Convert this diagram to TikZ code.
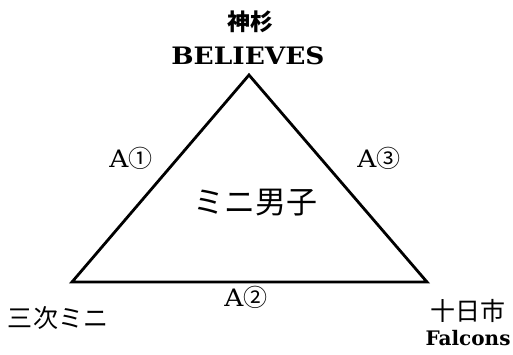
\documentclass[tikz,border=0pt]{standalone}
\usepackage{fontspec}
\newfontfamily\jp{Noto Sans CJK JP}
\newfontfamily\lat[FakeStretch=1.1]{DejaVu Serif}
\newfontfamily\latn{DejaVu Serif}
\begin{document}
\begin{tikzpicture}[x=1pt,y=-1pt,
  tri/.style={line width=2.8pt,line join=miter},
  jplab/.style={inner sep=0pt},
  enlab/.style={inner sep=0pt},
  alab/.style={inner sep=0pt}]
\useasboundingbox (0,0) rectangle (513,354);
\coordinate (T) at (249,75);
\coordinate (L) at (72,282);
\coordinate (R) at (427,282);
\draw[tri] (T) -- (L) -- (R) -- cycle;
\node[jplab,font=\jp\bfseries\fontsize{23}{23}\selectfont] (n1) at (250,22) {神杉};
\node[enlab,font=\lat\bfseries\fontsize{24}{24}\selectfont] (n2) at (248,56) {BELIEVES};
\node[jplab,font=\jp\fontsize{25}{25}\selectfont] (n3) at (58,318) {三次ミニ};
\node[jplab,font=\jp\fontsize{25}{25}\selectfont] (n4) at (468,311) {十日市};
\node[enlab,font=\latn\bfseries\fontsize{20}{20}\selectfont] (n5) at (468,338) {Falcons};
\node[jplab,font=\jp\fontsize{31}{31}\selectfont] (n6) at (255,203) {ミニ男子};
\node[alab,font=\lat\fontsize{24}{24}\selectfont] (a1) at (131,158) {A{\jp ①}};
\node[alab,font=\lat\fontsize{24}{24}\selectfont] (a2) at (246,297) {A{\jp ②}};
\node[alab,font=\lat\fontsize{24}{24}\selectfont] (a3) at (379,158) {A{\jp ③}};
\end{tikzpicture}
\end{document}
